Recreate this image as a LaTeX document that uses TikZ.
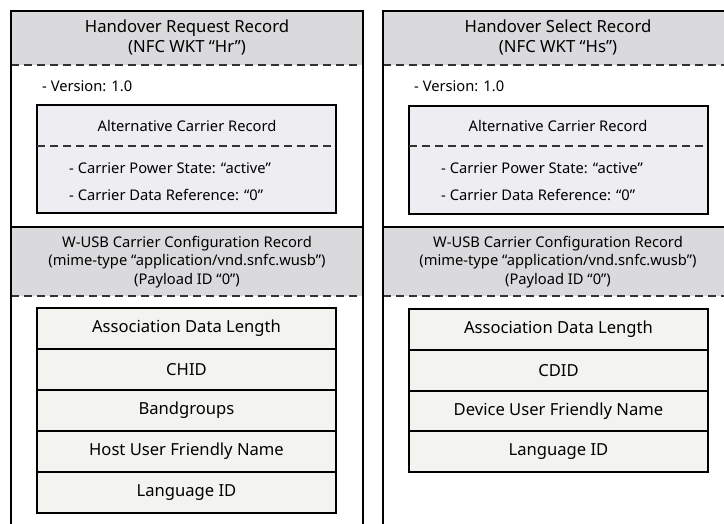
\documentclass[tikz,border=0pt]{standalone}
\usepackage{fontspec}
\setmainfont{Noto Sans}
\definecolor{hdrgrey}{HTML}{DADADD}
\definecolor{acfill}{HTML}{EEEEF2}
\definecolor{fieldfill}{HTML}{F3F3F0}
\tikzset{
  panel/.style={draw=black, line width=2.4pt},
  hdr/.style={fill=hdrgrey, draw=none},
  sep/.style={draw=black!80, line width=1.4pt, dash pattern=on 8pt off 5pt},
  acbox/.style={draw=black, line width=2.6pt, fill=acfill, anchor=north west,
    inner sep=0pt, outer sep=0pt, minimum width=299pt, minimum height=108pt},
  field/.style={draw=black, line width=2.6pt, fill=fieldfill, anchor=north west,
    inner sep=0pt, outer sep=0pt, minimum width=299pt, minimum height=41pt,
    font=\fontsize{16.6}{17}\selectfont},
  title/.style={align=center, font=\fontsize{16.7}{20}\selectfont, inner sep=0pt},
  sub/.style={align=center, font=\fontsize{14.7}{18.5}\selectfont, inner sep=0pt},
  item/.style={anchor=west, font=\fontsize{14.7}{16}\selectfont, inner sep=0pt},
}
\begin{document}
\begin{tikzpicture}[x=1pt, y=-1pt]
\useasboundingbox (0,0) rectangle (724,523);
\clip (0,0) rectangle (724,523);

% ---------- Handover Request Record ----------
\fill[hdrgrey] (11,11) rectangle (363,65);
\fill[hdrgrey] (11,227) rectangle (363,296);
\draw[sep] (11,65) -- (363,65);
\draw[sep] (11,296) -- (363,296);
\draw[panel] (11,227) -- (363,227);
\draw[panel] (11,540) -- (11,11) -- (363,11) -- (363,540);

\node[title] (hrtitle) at (187,37) {Handover Request Record\\(NFC WKT “Hr”)};
\node[item] (hrver) at (42,86) {- Version: 1.0};

\node[acbox] (hrac) at (37,105) {};
\draw[sep] (hrac.west |- 0,146) -- (hrac.east |- 0,146);
\node[item, anchor=center] (hracname) at (187,126) {Alternative Carrier Record};
\node[item] (hrps) at (69,168) {- Carrier Power State: “active”};
\node[item] (hrdr) at (69,195) {- Carrier Data Reference: “0”};

\node[sub] (hrwusb) at (187,262) {W-USB Carrier Configuration Record\\(mime-type “application/vnd.snfc.wusb”)\\(Payload ID “0”)};

\node[field] (hrf1) at (37,308) {Association Data Length};
\node[field] (hrf2) at (37,349) {CHID};
\node[field] (hrf3) at (37,390) {Bandgroups};
\node[field] (hrf4) at (37,431) {Host User Friendly Name};
\node[field] (hrf5) at (37,472) {Language ID};

% ---------- Handover Select Record ----------
\fill[hdrgrey] (383,11) rectangle (740,65);
\fill[hdrgrey] (383,227) rectangle (740,296);
\draw[sep] (383,65) -- (740,65);
\draw[sep] (383,296) -- (740,296);
\draw[panel] (383,227) -- (740,227);
\draw[panel] (383,540) -- (383,11) -- (740,11);

\node[title] (hstitle) at (558,37) {Handover Select Record\\(NFC WKT “Hs”)};
\node[item] (hsver) at (414,86) {- Version: 1.0};

\node[acbox] (hsac) at (409,106) {};
\draw[sep] (hsac.west |- 0,146) -- (hsac.east |- 0,146);
\node[item, anchor=center] (hsacname) at (558,126) {Alternative Carrier Record};
\node[item] (hsps) at (441,168) {- Carrier Power State: “active”};
\node[item] (hsdr) at (441,195) {- Carrier Data Reference: “0”};

\node[sub] (hswusb) at (558,262) {W-USB Carrier Configuration Record\\(mime-type “application/vnd.snfc.wusb”)\\(Payload ID “0”)};

\node[field] (hsf1) at (409,309) {Association Data Length};
\node[field] (hsf2) at (409,350) {CDID};
\node[field] (hsf3) at (409,391) {Device User Friendly Name};
\node[field] (hsf4) at (409,431) {Language ID};
\end{tikzpicture}
\end{document}
